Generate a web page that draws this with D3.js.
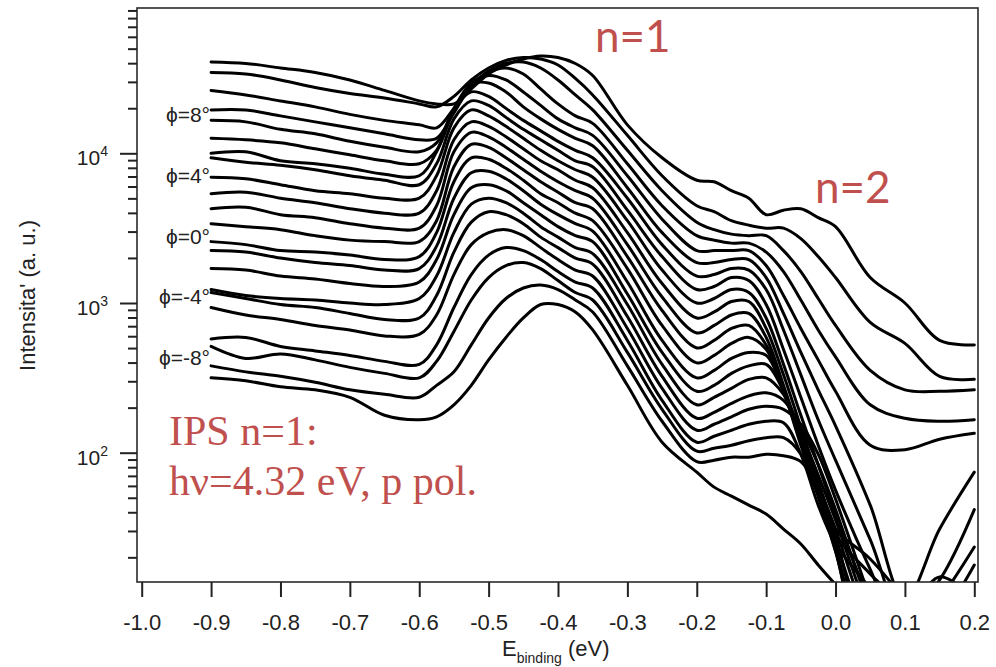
<!DOCTYPE html>
<html>
<head>
<meta charset="utf-8">
<script src="https://cdn.jsdelivr.net/npm/d3@7"></script>
<style>
  html, body { margin: 0; padding: 0; background: #fff; }
  svg { display: block; }
</style>
</head>
<body>
<svg id="chart" width="996" height="667"></svg>
<script>
// binding energy grid (eV), shared by all spectra
var energy = [-0.9, -0.85, -0.8, -0.75, -0.7, -0.65, -0.6, -0.575, -0.55, -0.525, -0.5, -0.475,
              -0.45, -0.425, -0.4, -0.375, -0.35, -0.3, -0.25, -0.2, -0.175, -0.15, -0.125, -0.1,
              -0.075, -0.05, -0.025, 0, 0.05, 0.1, 0.15, 0.2];

var phi12 = [4.61,4.60,4.57,4.54,4.49,4.42,4.35,4.33,4.33,4.43,4.53,4.59,4.63,4.65,4.64,4.60,4.52,4.19,3.97,3.82,3.81,3.75,3.70,3.59,3.62,3.63,3.57,3.51,3.17,3.00,2.75,2.72];
var phi11 = [4.54,4.53,4.49,4.44,4.40,4.37,4.33,4.31,4.38,4.49,4.57,4.62,4.64,4.63,4.59,4.50,4.39,4.12,3.85,3.65,3.61,3.55,3.52,3.50,3.50,3.43,3.31,3.17,2.87,2.73,2.51,2.49];
var phi10 = [4.42,4.39,4.35,4.31,4.26,4.22,4.19,4.17,4.30,4.45,4.55,4.60,4.61,4.57,4.49,4.39,4.29,4.02,3.75,3.54,3.49,3.46,3.45,3.45,3.35,3.21,3.03,2.85,2.55,2.42,2.41,2.42];
var phi9  = [4.29,4.29,4.25,4.21,4.17,4.13,4.09,4.10,4.27,4.45,4.54,4.57,4.53,4.43,4.33,4.25,4.20,3.93,3.65,3.45,3.42,3.40,3.40,3.34,3.21,3.02,2.82,2.64,2.32,2.23,2.21,2.22];
var phi8  = [4.22,4.21,4.16,4.13,4.08,4.04,4.01,4.07,4.30,4.47,4.52,4.49,4.41,4.32,4.23,4.17,4.12,3.85,3.56,3.35,3.35,3.35,3.35,3.25,3.05,2.83,2.62,2.41,2.05,2.02,2.09,2.13];
var phi7  = [4.10,4.09,4.07,4.03,3.99,3.95,3.93,4.02,4.29,4.46,4.47,4.41,4.31,4.23,4.16,4.10,4.05,3.77,3.47,3.27,3.27,3.29,3.29,3.17,2.93,2.67,2.42,2.18,1.65,1.02,1.49,1.87];
var phi6  = [4.00,4.01,3.95,3.93,3.90,3.86,3.85,4.01,4.29,4.41,4.38,4.30,4.22,4.15,4.08,4.02,3.97,3.70,3.39,3.18,3.19,3.23,3.22,3.09,2.82,2.52,2.22,1.95,1.42,0.89,1.15,1.62];
var phi5  = [3.97,3.94,3.92,3.89,3.85,3.82,3.79,3.93,4.23,4.35,4.32,4.24,4.16,4.09,4.02,3.95,3.91,3.62,3.31,3.09,3.11,3.17,3.15,2.99,2.69,2.37,2.05,1.75,1.22,0.75,1.02,1.37];
var phi4  = [3.84,3.83,3.79,3.75,3.73,3.70,3.70,3.85,4.17,4.29,4.25,4.18,4.10,4.02,3.95,3.89,3.84,3.55,3.22,3.00,3.03,3.09,3.07,2.90,2.59,2.25,1.92,1.59,1.02,0.69,0.89,1.25];
var phi3  = [3.73,3.74,3.70,3.67,3.63,3.60,3.60,3.75,4.09,4.21,4.18,4.11,4.03,3.95,3.89,3.82,3.77,3.47,3.13,2.90,2.94,3.01,3.01,2.83,2.52,2.17,1.81,1.45,0.75,0.89,1.17,1.02];
var phi2  = [3.63,3.64,3.59,3.57,3.53,3.50,3.50,3.65,4.01,4.14,4.11,4.04,3.96,3.88,3.81,3.75,3.70,3.39,3.04,2.80,2.85,2.92,2.93,2.77,2.45,2.10,1.74,1.37,0.62,0.49,0.75,1.02];
var phi1  = [3.53,3.51,3.49,3.45,3.42,3.41,3.41,3.55,3.91,4.06,4.04,3.97,3.89,3.81,3.74,3.67,3.63,3.31,2.95,2.70,2.75,2.83,2.85,2.72,2.42,2.07,1.71,1.34,0.55,0.35,0.42,0.35];
var phi0  = [3.41,3.39,3.35,3.34,3.32,3.29,3.31,3.47,3.81,3.97,3.96,3.90,3.82,3.73,3.67,3.60,3.55,3.23,2.85,2.60,2.65,2.73,2.77,2.69,2.41,2.05,1.71,1.35,0.49,0.35,0.35,0.35];
var phim1 = [3.35,3.34,3.30,3.27,3.25,3.22,3.23,3.38,3.70,3.87,3.88,3.83,3.75,3.66,3.59,3.53,3.48,3.14,2.75,2.50,2.55,2.63,2.67,2.65,2.41,2.07,1.74,1.41,0.75,0.35,0.35,0.35];
var phim2 = [3.23,3.22,3.18,3.16,3.13,3.11,3.14,3.29,3.59,3.77,3.79,3.75,3.67,3.59,3.51,3.45,3.41,3.06,2.67,2.41,2.45,2.53,2.58,2.59,2.41,2.10,1.79,1.49,0.82,0.35,0.35,0.35];
var phim3 = [3.09,3.05,3.03,3.02,3.00,2.99,3.03,3.18,3.47,3.66,3.70,3.67,3.60,3.51,3.44,3.37,3.33,2.99,2.59,2.32,2.37,2.43,2.49,2.50,2.39,2.14,1.85,1.55,0.89,0.35,0.35,0.35];
var phim4 = [3.07,3.03,2.99,2.97,2.93,2.89,2.90,3.05,3.34,3.54,3.61,3.59,3.53,3.44,3.37,3.30,3.26,2.91,2.51,2.23,2.27,2.33,2.38,2.40,2.35,2.17,1.92,1.62,0.95,0.35,0.35,0.35];
var phim5 = [2.97,2.92,2.89,2.85,2.82,2.78,2.79,2.92,3.19,3.39,3.47,3.49,3.45,3.37,3.29,3.22,3.18,2.83,2.43,2.15,2.19,2.24,2.29,2.31,2.29,2.19,1.99,1.69,1.02,0.35,0.35,0.35];
var phim6 = [2.76,2.77,2.71,2.68,2.65,2.61,2.59,2.72,2.97,3.19,3.32,3.37,3.35,3.29,3.21,3.14,3.10,2.75,2.35,2.07,2.11,2.15,2.19,2.21,2.20,1.99,1.65,1.39,1.09,0.75,0.35,0.35];
var phim7 = [2.71,2.63,2.66,2.62,2.57,2.53,2.50,2.61,2.81,3.02,3.17,3.25,3.27,3.23,3.15,3.07,3.02,2.67,2.29,2.01,2.03,2.05,2.08,2.10,2.10,1.99,1.72,1.45,1.19,0.95,0.35,0.35];
var phim8 = [2.58,2.54,2.51,2.47,2.42,2.39,2.37,2.45,2.54,2.72,2.90,3.03,3.10,3.12,3.09,3.02,2.94,2.58,2.21,1.94,1.95,1.97,1.97,1.99,1.98,1.94,1.75,1.49,1.29,1.02,0.75,0.35];
var phim9 = [2.50,2.48,2.44,2.42,2.37,2.25,2.22,2.24,2.32,2.45,2.62,2.77,2.90,2.99,2.99,2.94,2.82,2.45,2.07,1.87,1.77,1.71,1.65,1.59,1.49,1.39,1.25,1.12,0.89,0.75,0.35,0.35];

var spectra = [phi12, phi11, phi10, phi9, phi8, phi7, phi6, phi5, phi4, phi3, phi2,
               phi1, phi0, phim1, phim2, phim3, phim4, phim5, phim6, phim7, phim8, phim9];

var xTicks = [-1.0, -0.9, -0.8, -0.7, -0.6, -0.5, -0.4, -0.3, -0.2, -0.1, 0.0, 0.1, 0.2];
var yDecades = [1e2, 1e3, 1e4];
var angleLabels = ["\u03D5=8\u00B0", "\u03D5=4\u00B0", "\u03D5=0\u00B0", "\u03D5=-4\u00B0", "\u03D5=-8\u00B0"];

var sans = "'Liberation Sans', Arial, Helvetica, sans-serif";
var red = "#c0504d";

var frame = {left: 137, top: 8, right: 978, bottom: 582};

var x = d3.scaleLinear().domain([-1.0, 0.2]).range([141.7, 974.3]);
var y = d3.scaleLog().domain([1e2, 1e4]).range([452.7, 153.3]);

var svg = d3.select("#chart");

svg.append("clipPath").attr("id", "plotclip")
    .append("rect")
    .attr("x", frame.left).attr("y", frame.top)
    .attr("width", frame.right - frame.left)
    .attr("height", frame.bottom - frame.top);

// spectra
var line = d3.line()
    .x(function (d) { return x(d[0]); })
    .y(function (d) { return y(Math.pow(10, d[1])); })
    .curve(d3.curveCatmullRom.alpha(0.5));

svg.append("g")
    .attr("clip-path", "url(#plotclip)")
    .selectAll("path")
    .data(spectra)
    .enter().append("path")
    .attr("d", function (s) {
        return line(energy.map(function (e, i) { return [e, s[i]]; }));
    })
    .attr("fill", "none")
    .attr("stroke", "#000")
    .attr("stroke-width", 3)
    .attr("stroke-linejoin", "round")
    .attr("stroke-linecap", "round");

// frame
svg.append("rect")
    .attr("x", frame.left).attr("y", frame.top)
    .attr("width", frame.right - frame.left)
    .attr("height", frame.bottom - frame.top)
    .attr("fill", "none")
    .attr("stroke", "#2a2a2a")
    .attr("stroke-width", 1.6);

// x axis
var gx = svg.append("g")
    .attr("transform", "translate(0," + frame.bottom + ")")
    .call(d3.axisBottom(x)
        .tickValues(xTicks)
        .tickSize(15)
        .tickFormat(function (d) { return d.toFixed(1); }));
gx.select(".domain").remove();
gx.selectAll(".tick line").attr("stroke", "#222").attr("stroke-width", 2);
gx.selectAll(".tick text")
    .attr("y", 32).attr("dy", "0.71em")
    .attr("fill", "#222")
    .attr("font-family", sans)
    .attr("font-size", 22);

// y axis: minor ticks then decades
var minorTicks = [];
[10, 100, 1000, 10000].forEach(function (dec) {
    for (var m = 2; m <= 9; m++) minorTicks.push(dec * m);
});
minorTicks = minorTicks.filter(function (v) {
    var p = y(v);
    return p > frame.top && p < frame.bottom;
});

var gyMinor = svg.append("g")
    .attr("transform", "translate(" + frame.left + ",0)")
    .call(d3.axisLeft(y).tickValues(minorTicks).tickSize(9).tickFormat(""));
gyMinor.select(".domain").remove();
gyMinor.selectAll(".tick line").attr("stroke", "#222").attr("stroke-width", 2);

var gyMajor = svg.append("g")
    .attr("transform", "translate(" + frame.left + ",0)")
    .call(d3.axisLeft(y).tickValues(yDecades).tickSize(17).tickFormat(""));
gyMajor.select(".domain").remove();
gyMajor.selectAll(".tick line").attr("stroke", "#222").attr("stroke-width", 2);

var decLabels = svg.append("g")
    .attr("font-family", sans)
    .attr("fill", "#222")
    .selectAll("text")
    .data(yDecades)
    .enter().append("text")
    .attr("x", 108)
    .attr("y", function (d) { return y(d) + 12; })
    .attr("text-anchor", "end");
decLabels.append("tspan").attr("font-size", 21).text("10");
decLabels.append("tspan")
    .attr("font-size", 14)
    .attr("dy", -9)
    .text(function (d) { return Math.round(Math.log10(d)); });

// axis titles
svg.append("text")
    .attr("transform", "translate(35,295.5) rotate(-90)")
    .attr("text-anchor", "middle")
    .attr("font-family", sans)
    .attr("font-size", 22)
    .attr("fill", "#222")
    .text("Intensita' (a. u.)");

var xt = svg.append("text")
    .attr("x", 502).attr("y", 656)
    .attr("font-family", sans)
    .attr("fill", "#222")
    .attr("font-size", 22);
xt.append("tspan").text("E");
xt.append("tspan").attr("font-size", 14).attr("dy", 7).text("binding");
xt.append("tspan").attr("dy", -7).text(" (eV)");

// angle labels beside the spectra
svg.append("g")
    .attr("font-family", sans)
    .attr("font-size", 21)
    .attr("fill", "#222")
    .attr("text-anchor", "end")
    .selectAll("text")
    .data(angleLabels)
    .enter().append("text")
    .attr("x", 210)
    .attr("y", function (d, i) { return 122 + i * 60.8; })
    .text(function (d) { return d; });

// red annotations
svg.append("text")
    .attr("x", 595).attr("y", 52)
    .attr("font-family", "Lato, 'Open Sans', sans-serif")
    .attr("font-size", 44)
    .attr("fill", red)
    .text("n=1");

svg.append("text")
    .attr("x", 815).attr("y", 203)
    .attr("font-family", "Lato, 'Open Sans', sans-serif")
    .attr("font-size", 44)
    .attr("fill", red)
    .text("n=2");

var note = svg.append("text")
    .attr("font-family", "'Liberation Serif', 'Times New Roman', serif")
    .attr("font-size", 42)
    .attr("fill", red);
note.append("tspan").attr("x", 169).attr("y", 445).text("IPS n=1:");
note.append("tspan").attr("x", 169).attr("y", 495).text("h\u03BD=4.32 eV, p pol.");
</script>
</body>
</html>
